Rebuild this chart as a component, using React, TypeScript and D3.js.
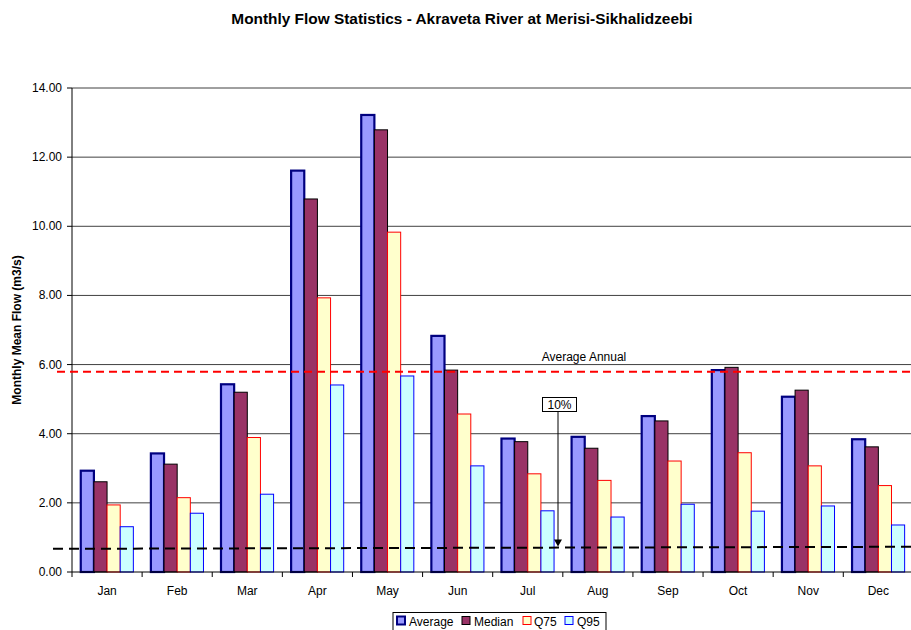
import React from "react";
import * as d3 from "d3";

const months = ["Jan", "Feb", "Mar", "Apr", "May", "Jun", "Jul", "Aug", "Sep", "Oct", "Nov", "Dec"];
const average = [2.93, 3.43, 5.43, 11.61, 13.22, 6.83, 3.86, 3.91, 4.51, 5.84, 5.07, 3.84];
const median = [2.61, 3.12, 5.2, 10.79, 12.79, 5.84, 3.77, 3.58, 4.37, 5.92, 5.26, 3.62];
const q75 = [1.94, 2.15, 3.89, 7.93, 9.83, 4.57, 2.84, 2.65, 3.21, 3.45, 3.07, 2.5];
const q95 = [1.31, 1.7, 2.25, 5.41, 5.67, 3.07, 1.77, 1.59, 1.96, 1.76, 1.91, 1.36];
const yTicks = [0, 2, 4, 6, 8, 10, 12, 14];
const averageAnnual = 5.79;
const tenPercentLine = [0.67, 0.73];

const seriesNames = ["Average", "Median", "Q75", "Q95"];
const seriesData = [average, median, q75, q95];
const fills = ["#9999FF", "#993366", "#FFFFCC", "#CCFFFF"];
const strokes = ["#000080", "#000000", "#FF0000", "#0000FF"];
const strokeWidths = [2.2, 1, 1, 1];

const W = 911;
const H = 630;
const left = 72;
const right = 913.4;
const top = 88;
const bottom = 572;
const font = "'Liberation Sans', Arial, sans-serif";

export default function App() {
  const x = d3.scaleBand<string>().domain(months).range([left, right]).padding(0);
  const bw = x.bandwidth();
  const x1 = d3
    .scaleBand<string>()
    .domain(seriesNames)
    .range([bw * 0.125, bw * 0.875])
    .padding(0);
  const y = d3.scaleLinear().domain([0, 14]).range([bottom, top]);

  const annY = y(averageAnnual);
  const lineX0 = 53;
  const lineY = (px: number) =>
    y(tenPercentLine[0] + ((tenPercentLine[1] - tenPercentLine[0]) * (px - lineX0)) / (right - lineX0));
  const blackLine = d3
    .line<number>()
    .x((_, i) => (i === 0 ? lineX0 : right))
    .y((d) => y(d));

  const arrowX = 558;
  const arrowBottom = lineY(arrowX);

  const legendItems = [
    { x: 397, tx: 409 },
    { x: 462, tx: 474 },
    { x: 523, tx: 534 },
    { x: 565, tx: 577 },
  ];

  return (
    <svg
      width={W}
      height={H}
      style={{ position: "absolute", left: 0, top: 0, background: "#fff" }}
      fontFamily={font}
    >
      <rect x={0} y={0} width={W} height={H} fill="#fff" />
      <text x={462} y={24} textAnchor="middle" fontSize={15.4} fontWeight="bold">
        Monthly Flow Statistics - Akraveta River at Merisi-Sikhalidzeebi
      </text>

      {/* gridlines */}
      {yTicks
        .filter((t) => t > 0)
        .map((t) => (
          <line key={t} x1={left} x2={right} y1={y(t)} y2={y(t)} stroke="#404040" strokeWidth={1} />
        ))}

      {/* bars */}
      {months.map((m, i) => (
        <g key={m} transform={`translate(${x(m)},0)`}>
          {seriesNames.map((s, k) => {
            const v = seriesData[k][i];
            return (
              <rect
                key={s}
                x={x1(s) as number}
                y={y(v)}
                width={x1.bandwidth()}
                height={bottom - y(v)}
                fill={fills[k]}
                stroke={strokes[k]}
                strokeWidth={strokeWidths[k]}
              />
            );
          })}
        </g>
      ))}

      {/* axes */}
      <line x1={left} x2={left} y1={top} y2={bottom} stroke="#000" strokeWidth={1} />
      <line x1={left} x2={right} y1={bottom} y2={bottom} stroke="#000" strokeWidth={1} />
      {yTicks.map((t) => (
        <g key={t}>
          <line x1={left - 5} x2={left} y1={y(t)} y2={y(t)} stroke="#000" />
          <text x={62} y={y(t) + 4} textAnchor="end" fontSize={12}>
            {t.toFixed(2)}
          </text>
        </g>
      ))}
      {months.map((m) => (
        <g key={m}>
          <line x1={x(m) as number} x2={x(m) as number} y1={bottom} y2={bottom + 5} stroke="#000" />
          <text x={(x(m) as number) + bw / 2} y={595} textAnchor="middle" fontSize={12}>
            {m}
          </text>
        </g>
      ))}
      <line x1={right} x2={right} y1={bottom} y2={bottom + 5} stroke="#000" />

      <text
        transform={`translate(21,${(top + bottom) / 2}) rotate(-90)`}
        textAnchor="middle"
        fontSize={12}
        fontWeight="bold"
      >
        Monthly Mean Flow (m3/s)
      </text>

      {/* average annual line */}
      <line x1={57} x2={right} y1={annY} y2={annY} stroke="#FF0000" strokeWidth={2} strokeDasharray="8,5" />
      <text x={584} y={361} textAnchor="middle" fontSize={12}>
        Average Annual
      </text>

      {/* 10% line */}
      <path d={blackLine(tenPercentLine) || ""} stroke="#000" strokeWidth={2} strokeDasharray="10,6" fill="none" />
      <line x1={arrowX} x2={arrowX} y1={412} y2={arrowBottom - 6} stroke="#000" strokeWidth={1} />
      <path
        d={`M${arrowX - 4},${arrowBottom - 8} L${arrowX + 4},${arrowBottom - 8} L${arrowX},${arrowBottom - 1} Z`}
        fill="#000"
      />
      <rect x={542.5} y={397.5} width={34} height={14} fill="#fff" stroke="#000" strokeWidth={1} />
      <text x={559.5} y={409} textAnchor="middle" fontSize={12}>
        10%
      </text>

      {/* legend */}
      <rect x={393} y={612.5} width={213} height={22} fill="#fff" stroke="#000" strokeWidth={1} />
      {seriesNames.map((s, k) => (
        <g key={s}>
          <rect
            x={legendItems[k].x}
            y={616.5}
            width={8}
            height={8}
            fill={fills[k]}
            stroke={strokes[k]}
            strokeWidth={k === 0 ? 2 : 1}
          />
          <text x={legendItems[k].tx} y={626} fontSize={12}>
            {s}
          </text>
        </g>
      ))}
    </svg>
  );
}
